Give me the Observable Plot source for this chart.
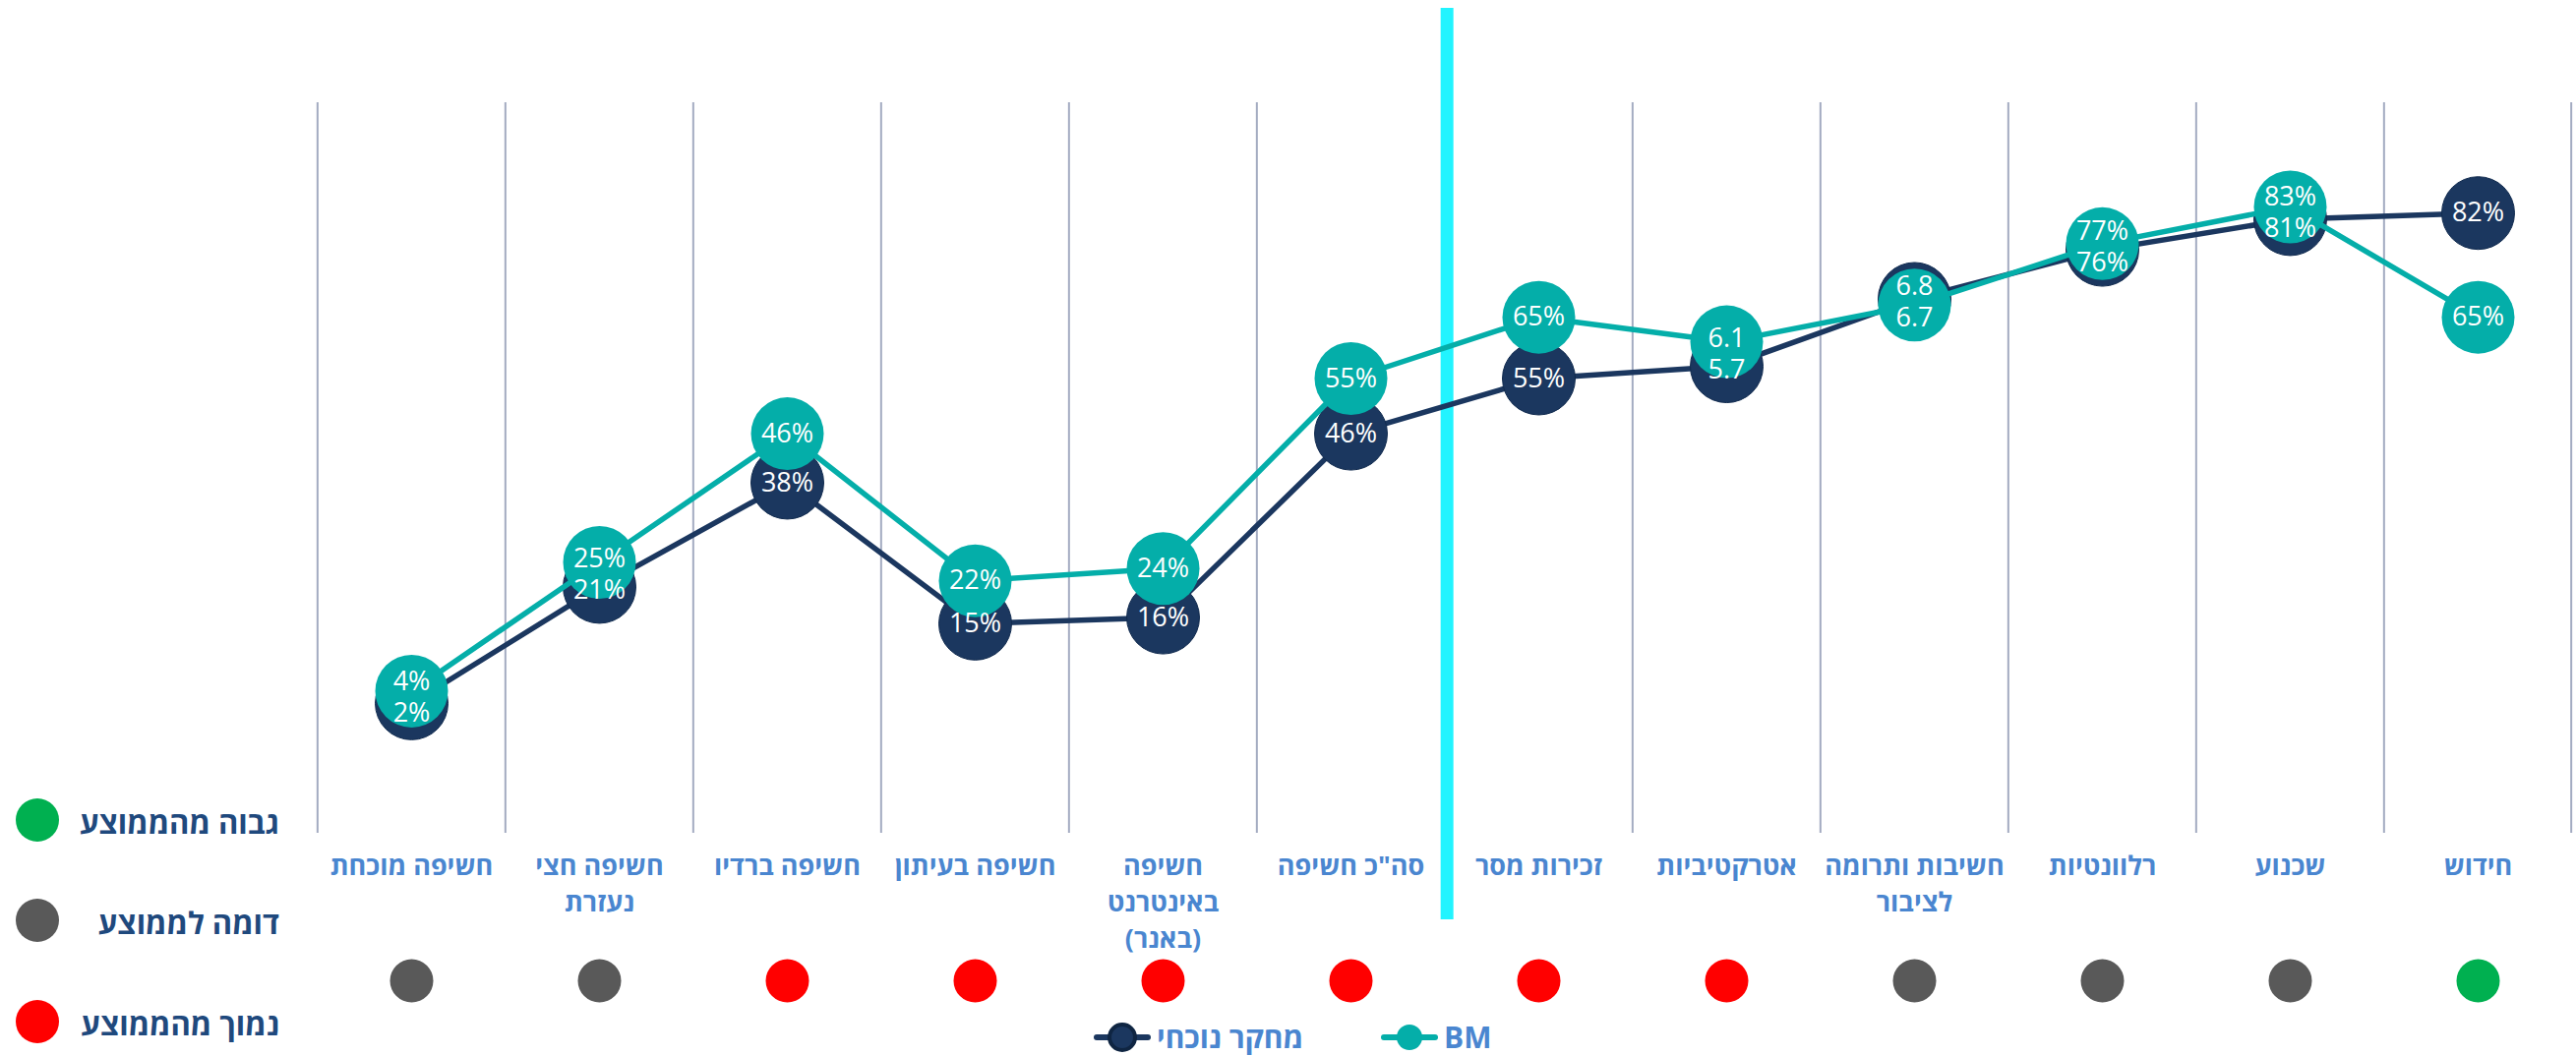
<!DOCTYPE html>
<html lang="he">
<head>
<meta charset="utf-8">
<script src="https://cdn.jsdelivr.net/npm/d3@7"></script>
<script src="https://cdn.jsdelivr.net/npm/@observablehq/plot@0.6"></script>
<style>
  html, body { margin: 0; padding: 0; background: #ffffff; }
  #wrap { position: relative; width: 2619px; height: 1074px; font-family: 'Open Sans', 'Liberation Sans', 'DejaVu Sans', sans-serif; }
  #chart svg { display: block; }
  .status-item { position: absolute; left: 0; width: 290px; height: 50px; }
  .status-dot { position: absolute; left: 16px; top: 3px; width: 44px; height: 44px; border-radius: 50%; }
  .status-label { position: absolute; right: 6px; top: 2px; line-height: 50px; font-size: 31px; font-weight: 700; color: #1f497d; direction: rtl; white-space: nowrap; }
  #series-legend { position: absolute; left: 0; top: 1038px; width: 2619px; height: 34px; }
  .series-item { position: absolute; top: 0; height: 34px; display: flex; align-items: center; gap: 6px; }
  .series-item svg { display: block; }
  .series-item span { font-size: 30px; line-height: 34px; font-weight: 700; color: #4a86d0; direction: rtl; white-space: nowrap; }
</style>
</head>
<body>
<div id="wrap">
  <div id="chart"></div>
  <div id="status-legend"></div>
  <div id="series-legend"></div>
</div>
<script>
// ---------------- data ----------------
const categories = [
  "חשיפה מוכחת",
  "חשיפה חצי נעזרת",
  "חשיפה ברדיו",
  "חשיפה בעיתון",
  "חשיפה באינטרנט (באנר)",
  'סה"כ חשיפה',
  "זכירות מסר",
  "אטרקטיביות",
  "חשיבות ותרומה לציבור",
  "רלוונטיות",
  "שכנוע",
  "חידוש"
];
const tickLabels = [
  "חשיפה מוכחת",
  "חשיפה חצי\nנעזרת",
  "חשיפה ברדיו",
  "חשיפה בעיתון",
  "חשיפה\nבאינטרנט\n(באנר)",
  'סה"כ חשיפה',
  "זכירות מסר",
  "אטרקטיביות",
  "חשיבות ותרומה\nלציבור",
  "רלוונטיות",
  "שכנוע",
  "חידוש"
];
const currentValues = [2, 21, 38, 15, 16, 46, 55, 5.7, 6.8, 76, 81, 82];
const bmValues      = [4, 25, 46, 22, 24, 55, 65, 6.1, 6.7, 77, 83, 65];
// categories measured on a 1–10 scale (shown as decimals, plotted ×10)
const tenPointScale = [false, false, false, false, false, false, false, true, true, false, false, false];
const categoryStatus = ["similar", "similar", "lower", "lower", "lower", "lower", "lower", "lower", "similar", "similar", "similar", "higher"];
const statusOrder = ["higher", "similar", "lower"];
const statusLabels = { higher: "גבוה מהממוצע", similar: "דומה לממוצע", lower: "נמוך מהממוצע" };
const statusColors = { higher: "#00b050", similar: "#595959", lower: "#ff0000" };
const seriesNames = ["מחקר נוכחי", "BM"];
const seriesColors = { "מחקר נוכחי": "#1b375f", "BM": "#04aea9" };
const dividerAfter = 'סה"כ חשיפה';

// ---------------- layout ----------------
const W = 2619, H = 1036;
const mL = 320, mR = 3, mT = 104, mB = H - 852;
const step = (W - mL - mR) / categories.length;
const pxPerUnit = (H - mT - mB) / 120;

// ---------------- rows ----------------
const rows = [];
seriesNames.forEach((s, si) => {
  const vals = si === 0 ? currentValues : bmValues;
  vals.forEach((v, i) => {
    rows.push({
      series: s,
      category: categories[i],
      value: v,
      y: tenPointScale[i] ? v * 10 : v,
      label: tenPointScale[i] ? v.toFixed(1) : v + "%"
    });
  });
});
// dodge overlapping labels (keep at least ~32px between the two labels of a category)
const minSep = 32 / pxPerUnit;
categories.forEach(c => {
  const pair = rows.filter(r => r.category === c);
  const [a, b] = pair;
  const d = Math.abs(a.y - b.y);
  if (d < minSep) {
    const mid = (a.y + b.y) / 2;
    const hi = a.y >= b.y ? a : b, lo = hi === a ? b : a;
    hi.ly = mid + minSep / 2; lo.ly = mid - minSep / 2;
  }
  pair.forEach(r => { if (r.ly === undefined) r.ly = r.y; });
});
const current = rows.filter(r => r.series === seriesNames[0]);
const bm = rows.filter(r => r.series === seriesNames[1]);
const labelMap = new Map(categories.map((c, i) => [c, tickLabels[i]]));
const statusRows = categories.map((c, i) => ({ category: c, status: categoryStatus[i] }));
const dividerIndex = categories.indexOf(dividerAfter);
const gridCats = categories.filter((c, i) => i !== dividerIndex + 1);

const chart = Plot.plot({
  width: W,
  height: H,
  marginLeft: mL,
  marginRight: mR,
  marginTop: mT,
  marginBottom: mB,
  style: { fontFamily: "'Open Sans', 'Liberation Sans', 'DejaVu Sans', sans-serif", background: "#ffffff", overflow: "visible" },
  x: { type: "point", domain: categories, padding: 0.5, axis: null },
  y: { domain: [-20, 100], axis: null },
  marks: [
    // vertical separators between categories
    Plot.ruleX(gridCats, { x: d => d, dx: -step / 2, stroke: "#a3abc1", strokeWidth: 2, insetBottom: 5 }),
    Plot.ruleX([categories[categories.length - 1]], { x: d => d, dx: step / 2 - 1, stroke: "#a3abc1", strokeWidth: 2, insetBottom: 5 }),
    // highlighted divider
    Plot.ruleX([dividerAfter], { x: d => d, dx: step / 2 + 2, stroke: "#22f4ff", strokeWidth: 13, insetTop: -96, insetBottom: -83 }),
    // series lines and markers
    Plot.line(current, { x: "category", y: "y", stroke: seriesColors[seriesNames[0]], strokeWidth: 5.5 }),
    Plot.dot(current, { x: "category", y: "y", r: 37, fill: seriesColors[seriesNames[0]], stroke: "#112b4f", strokeWidth: 1 }),
    Plot.line(bm, { x: "category", y: "y", stroke: seriesColors[seriesNames[1]], strokeWidth: 5.5 }),
    Plot.dot(bm, { x: "category", y: "y", r: 37, fill: seriesColors[seriesNames[1]] }),
    // value labels
    Plot.text(rows, { x: "category", y: "ly", text: "label", fill: "#ffffff", fontSize: 27 }),
    // category labels
    Plot.text(categories, {
      x: d => d, text: d => labelMap.get(d), frameAnchor: "bottom", dy: 11,
      lineAnchor: "top", lineHeight: 1.37, fontSize: 27, fontWeight: 700, fill: "#4a86d0"
    }),
    // status dots under each category
    Plot.dot(statusRows, { x: "category", frameAnchor: "bottom", dy: 145, r: 22, fill: d => statusColors[d.status] })
  ]
});
document.getElementById("chart").appendChild(chart);

// status legend (left)
const statusCenters = { higher: 834, similar: 936, lower: 1039 };
const sl = document.getElementById("status-legend");
statusOrder.forEach(s => {
  const item = document.createElement("div");
  item.className = "status-item";
  item.style.top = (statusCenters[s] - 25) + "px";
  const dot = document.createElement("div");
  dot.className = "status-dot";
  dot.style.background = statusColors[s];
  const lab = document.createElement("div");
  lab.className = "status-label";
  lab.textContent = statusLabels[s];
  item.appendChild(dot); item.appendChild(lab);
  sl.appendChild(item);
});

// series legend (bottom)
const legendLeft = { "מחקר נוכחי": 1112, "BM": 1404 };
const lg = document.getElementById("series-legend");
seriesNames.forEach(s => {
  const item = document.createElement("div");
  item.className = "series-item";
  item.style.left = legendLeft[s] + "px";
  const c = seriesColors[s];
  item.innerHTML = `<svg width="58" height="30"><line x1="3" y1="15" x2="55" y2="15" stroke="${c}" stroke-width="6" stroke-linecap="round"/><circle cx="29" cy="15" r="13" fill="${c}" ${s === seriesNames[0] ? 'stroke="#0f2542" stroke-width="4"' : ''}/></svg>`;
  const span = document.createElement("span");
  span.textContent = s;
  item.appendChild(span);
  lg.appendChild(item);
});
</script>
</body>
</html>
